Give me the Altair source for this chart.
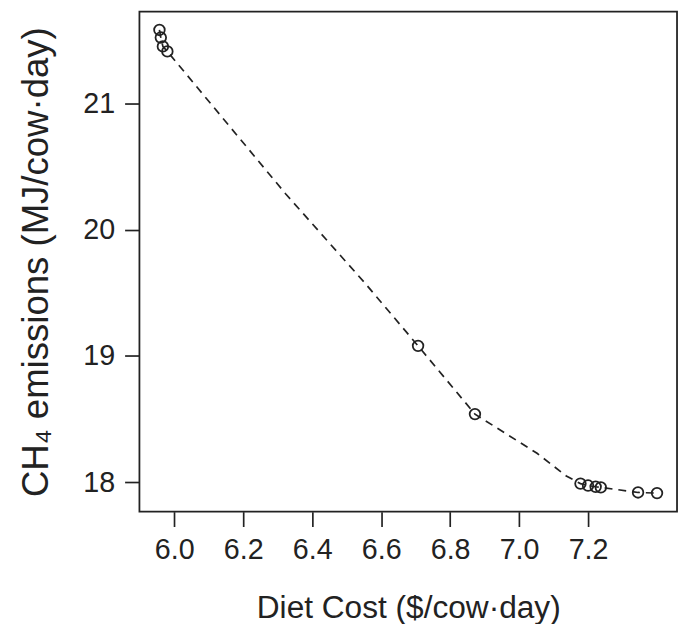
import altair as alt
import pandas as pd

# marker points (Diet cost, CH4 emissions)
pt_cost = [5.957, 5.961, 5.967, 5.980, 6.707, 6.872, 7.178, 7.200, 7.222, 7.237, 7.345, 7.400]
pt_ch4 = [21.58, 21.52, 21.45, 21.41, 19.08, 18.54, 17.99, 17.975, 17.965, 17.96, 17.92, 17.915]

# dashed frontier line
ln_cost = [5.957, 5.961, 5.967, 5.980, 6.324, 6.552, 6.707, 6.872, 7.052, 7.137, 7.178, 7.200, 7.222, 7.237, 7.345, 7.400]
ln_ch4 = [21.58, 21.52, 21.45, 21.41, 20.28, 19.58, 19.08, 18.54, 18.23, 18.05, 17.99, 17.975, 17.965, 17.96, 17.92, 17.915]

x_ticks = [6.0, 6.2, 6.4, 6.6, 6.8, 7.0, 7.2]
y_ticks = [18, 19, 20, 21]

pts = pd.DataFrame({"cost": pt_cost, "ch4": pt_ch4})
lns = pd.DataFrame({"cost": ln_cost, "ch4": ln_ch4, "order": list(range(len(ln_cost)))})

FONT = "Liberation Sans"
INK = "#222222"

xs = alt.Scale(domain=[5.899, 7.458], nice=False, zero=False)
ys = alt.Scale(domain=[17.768, 21.725], nice=False, zero=False)

xax = alt.Axis(values=x_ticks, format=".1f", title="Diet Cost ($/cow·day)",
               grid=False, domain=False, tickSize=15, tickWidth=1.7, tickColor=INK,
               labelFont=FONT, labelFontSize=29, labelColor=INK, labelPadding=9,
               titleFont=FONT, titleFontSize=32, titleFontWeight="normal", titleColor=INK,
               titlePadding=29, labelFlush=False)
yax = alt.Axis(values=y_ticks, format="d", title="CH₄ emissions (MJ/cow·day)",
               grid=False, domain=False, tickSize=15, tickWidth=1.7, tickColor=INK,
               labelFont=FONT, labelFontSize=29, labelColor=INK, labelPadding=10,
               titleFont=FONT, titleFontSize=37, titleFontWeight="normal", titleColor=INK,
               titlePadding=28, labelFlush=False)

line = alt.Chart(lns).mark_line(color=INK, strokeWidth=1.7, strokeDash=[8, 6]).encode(
    x=alt.X("cost:Q", scale=xs, axis=xax),
    y=alt.Y("ch4:Q", scale=ys, axis=yax),
    order="order:Q",
)
points = alt.Chart(pts).mark_point(shape="circle", filled=False, color=INK, size=115,
                                   strokeWidth=1.8, opacity=1).encode(
    x=alt.X("cost:Q", scale=xs),
    y=alt.Y("ch4:Q", scale=ys),
)

chart = alt.layer(line, points).properties(
    width=544, height=506,
    background="white",
    autosize=alt.AutoSizeParams(type="none"),
    padding={"left": 133, "top": 0, "right": 2, "bottom": 110},
).configure_view(stroke=INK, strokeWidth=1.8)

chart.save("out.html", embed_options={"renderer": "svg", "actions": False})
